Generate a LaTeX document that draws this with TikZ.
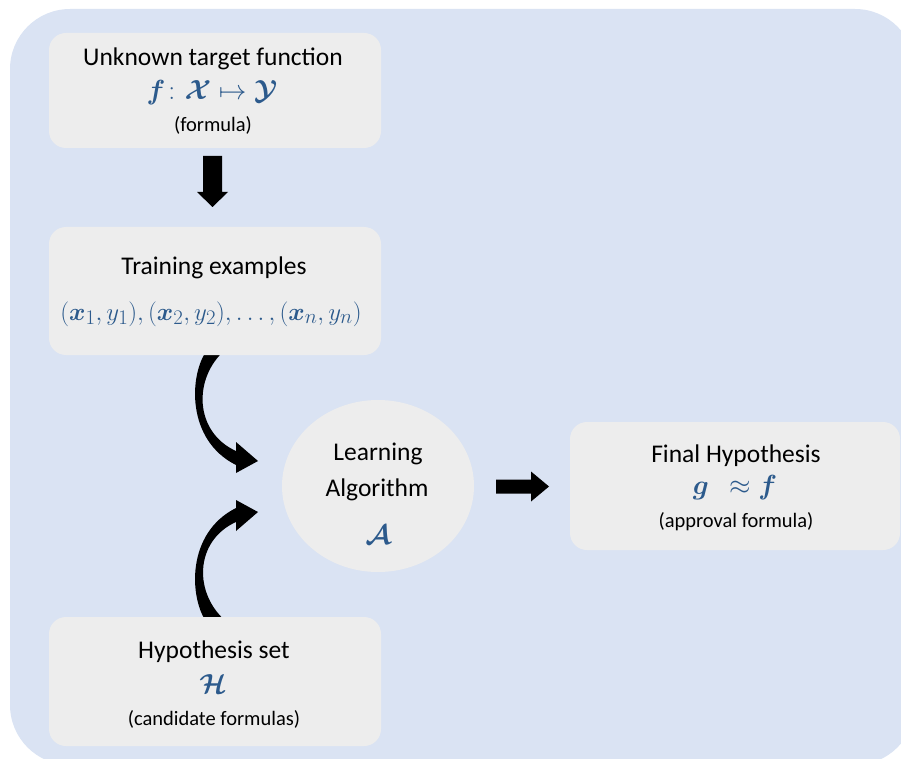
\documentclass[tikz,border=0pt]{standalone}
\usepackage{fontspec}
\setmainfont{Carlito}
\usepackage{graphicx}
\usepackage{amsmath}
\usepackage{bm}
\usetikzlibrary{shapes.geometric}
\definecolor{bgblue}{HTML}{DAE3F3}
\definecolor{boxgray}{HTML}{EDEDED}
\definecolor{mathblue}{HTML}{2C5A8C}
\newcommand{\bigmath}[1]{\scalebox{1.11}{$#1$}}
\begin{document}
\begin{tikzpicture}[x=1pt,y=-1pt,
  box/.style={fill=boxgray, rounded corners=17pt, minimum width=332pt, inner sep=0pt},
  big/.style={anchor=base, inner sep=0pt, font=\fontsize{25.5}{30}\selectfont},
  small/.style={anchor=base, inner sep=0pt, font=\fontsize{20.5}{24}\selectfont},
  mth/.style={anchor=base, inner sep=0pt, text=mathblue, font=\fontsize{24.88}{30}\selectfont},
  blockarrow/.style={fill=black}]
\useasboundingbox (0,0) rectangle (901,759);
\clip (0,0) rectangle (901,759);
\fill[bgblue, rounded corners=60pt] (10,9) rectangle (915,765);

% connectors (drawn under the boxes)
\fill[blockarrow] (203,156) -- (222,156) -- (222,192) -- (228,192) -- (212.5,207) -- (197,192) -- (203,192) -- cycle;
\fill[blockarrow] (496,479.5) -- (531,479.5) -- (531,471.5) -- (549,486.5) -- (531,501.5) -- (531,493.5) -- (496,493.5) -- cycle;
\fill[blockarrow] (207,350) .. controls (189,375) and (186,440) .. (236,465) -- (236,473) -- (258,461) -- (236,442) -- (236,451) .. controls (194,432) and (193,378) .. (225,350) -- cycle;
\fill[blockarrow] (207,623) .. controls (189,598) and (186,533) .. (236,508) -- (236,500) -- (258,512) -- (236,531) -- (236,522) .. controls (194,541) and (193,595) .. (228,623) -- cycle;

% boxes
\node[box, minimum height=115pt] (target) at (215,90.5) {};
\node[box, minimum height=128pt] (train) at (215,291) {};
\node[box, minimum height=129pt] (hyp) at (215,681.5) {};
\node[box, minimum width=330pt, minimum height=128pt] (final) at (735,486) {};
\node[ellipse, fill=boxgray, minimum width=192pt, minimum height=172pt, inner sep=0pt] (algo) at (378,486) {};

% texts
\node[big] (t1) at (213,66) {Unknown target function};
\node[mth] (t2) at (212,100) {\bigmath{\bm{f}\colon \bm{\mathcal{X}} \mapsto \bm{\mathcal{Y}}}};
\node[small] (t3) at (213,132) {(formula)};

\node[big] (r1) at (214,274) {Training examples};
\node[mth] (r2) at (211,320) {$(\bm{x}_1, y_1), (\bm{x}_2, y_2), \ldots, (\bm{x}_n, y_n)$};

\node[big] (a1) at (378,460) {Learning};
\node[big] (a2) at (377,496) {Algorithm};
\node[mth] (a3) at (378,544) {\bigmath{\bm{\mathcal{A}}}};

\node[big] (f1) at (736,462) {Final Hypothesis};
\node[mth] (f2) at (735,494) {\bigmath{\bm{g}\ \ \approx \bm{f}}};
\node[small] (f3) at (736,527) {(approval formula)};

\node[big] (h1) at (214,658) {Hypothesis set};
\node[mth] (h2) at (213,693) {\bigmath{\bm{\mathcal{H}}}};
\node[small] (h3) at (214,725) {(candidate formulas)};
\end{tikzpicture}
\end{document}
